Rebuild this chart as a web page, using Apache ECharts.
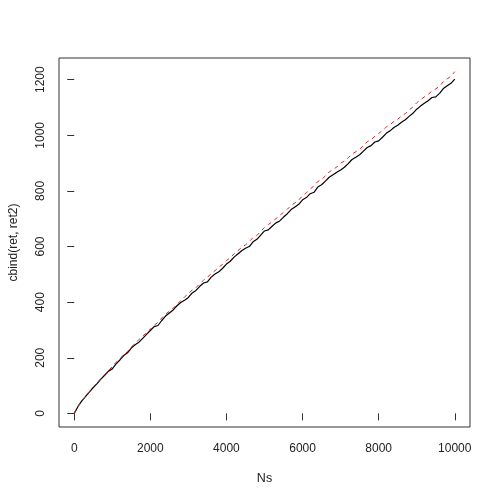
<!DOCTYPE html>
<html>
<head>
<meta charset="utf-8">
<script src="https://cdn.jsdelivr.net/npm/echarts@6/dist/echarts.min.js"></script>
<style>html,body{margin:0;padding:0;background:#fff}#c{width:500px;height:500px}</style>
</head>
<body>
<div id="c"></div>
<script>
// Sample positions (Ns)
const Ns = [0,100,200,300,400,500,600,700,800,900,1000,1100,1200,1300,1400,1500,1600,1700,1800,1900,2000,
2100,2200,2300,2400,2500,2600,2700,2800,2900,3000,3100,3200,3300,3400,3500,3600,3700,3800,3900,4000,
4100,4200,4300,4400,4500,4600,4700,4800,4900,5000,5100,5200,5300,5400,5500,5600,5700,5800,5900,6000,
6100,6200,6300,6400,6500,6600,6700,6800,6900,7000,7100,7200,7300,7400,7500,7600,7700,7800,7900,8000,
8100,8200,8300,8400,8500,8600,8700,8800,8900,9000,9100,9200,9300,9400,9500,9600,9700,9800,9900,10000];

// ret2 (red dashed)
const ret2 = [0,25,46,62,78,95,109,125,139,154,168,184,196,212,222,239,251,266,278,290,303,
317,327,343,357,367,378,393,405,419,430,444,452,467,479,489,503,513,526,536,550,
559,574,585,597,606,618,632,640,654,669,679,689,700,712,723,734,748,757,767,783,
793,807,818,834,841,854,868,877,886,900,907,919,933,941,950,963,977,984,997,1007,
1017,1030,1038,1050,1058,1069,1078,1091,1102,1117,1128,1138,1147,1159,1167,1177,1193,1203,1212,1229];

// ret (black solid)
const ret = [0,25,45,61,77,93,107,123,137,152,160,178,192,208,218,235,247,256,270,284,298,
312,316,334,350,361,372,387,399,407,417,433,442,457,469,473,490,501,509,522,537,
547,562,573,585,594,600,617,626,641,656,660,673,685,692,706,718,733,742,752,768,
776,790,795,814,822,835,849,858,867,875,885,898,913,921,930,943,956,963,976,980,
993,1007,1016,1028,1036,1047,1056,1068,1079,1094,1105,1115,1124,1136,1138,1151,1168,1178,1187,1202];

const xTicks = [0,2000,4000,6000,8000,10000];
const yTicks = [0,200,400,600,800,1000,1200];

const font = {fontFamily:'Liberation Sans, Arial, sans-serif', fontSize:12, color:'#222'};

const chart = echarts.init(document.getElementById('c'), null, {renderer:'canvas'});
chart.setOption({
  animation:false,
  backgroundColor:'#fff',
  grid:{left:58, right:30, top:58, bottom:73, show:true, borderColor:'#333', borderWidth:1, backgroundColor:'transparent'},
  xAxis:{
    type:'value', min:-400, max:10400,
    name:'Ns', nameLocation:'middle', nameGap:45,
    nameTextStyle:Object.assign({}, font, {fontSize:12.5}),
    axisLine:{show:false},
    splitLine:{show:false},
    axisTick:{show:true, inside:false, length:7, customValues:xTicks, lineStyle:{color:'#333'}},
    axisLabel:Object.assign({show:true, margin:16, customValues:xTicks, formatter:v=>String(v)}, font)
  },
  yAxis:{
    type:'value', min:-49, max:1278,
    name:'cbind(ret, ret2)', nameLocation:'middle', nameGap:39, nameRotate:90,
    nameTextStyle:Object.assign({}, font, {fontSize:12}),
    axisLine:{show:false},
    splitLine:{show:false},
    axisTick:{show:true, inside:false, length:7, customValues:yTicks, lineStyle:{color:'#333'}},
    axisLabel:Object.assign({show:true, margin:12, rotate:90, customValues:yTicks, formatter:v=>String(v)}, font)
  },
  series:[
    {type:'line', data:Ns.map((x,i)=>[x,ret[i]]), showSymbol:false, symbol:'none',
     lineStyle:{color:'#000', width:1.2}, z:2},
    {type:'line', data:Ns.map((x,i)=>[x,ret2[i]]), showSymbol:false, symbol:'none',
     lineStyle:{color:'#d42a2a', width:1, type:[4,4]}, z:3}
  ]
});
</script>
</body>
</html>
